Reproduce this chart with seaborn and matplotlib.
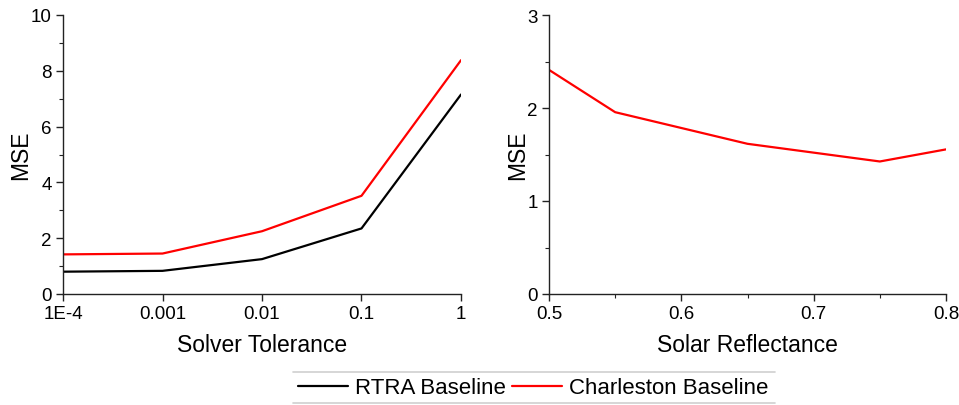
import matplotlib
matplotlib.use("Agg")
import matplotlib.pyplot as plt
import matplotlib.ticker as mticker
from matplotlib.lines import Line2D
import seaborn as sns
import pandas as pd

sns.set_theme(style="ticks")
plt.rcParams['font.family'] = ['Liberation Sans', 'DejaVu Sans']
plt.rcParams['text.color'] = 'black'
plt.rcParams['axes.labelcolor'] = 'black'

# Left panel data
tolerance = [1e-4, 1e-3, 1e-2, 1e-1, 1.0]
rtra_mse = [0.80, 0.83, 1.25, 2.35, 7.15]
charleston_mse = [1.42, 1.45, 2.25, 3.52, 8.38]
tol_ticks = [1e-4, 1e-3, 1e-2, 1e-1, 1.0]
tol_labels = ["1E-4", "0.001", "0.01", "0.1", "1"]

# Right panel data
reflectance = [0.50, 0.55, 0.60, 0.65, 0.70, 0.75, 0.80]
charleston_refl_mse = [2.41, 1.955, 1.785, 1.615, 1.52, 1.425, 1.555]

series_names = ["RTRA Baseline", "Charleston Baseline"]
colors = {"RTRA Baseline": "black", "Charleston Baseline": "#ff0000"}

df_left = pd.DataFrame({
    "tol": tolerance * 2,
    "mse": rtra_mse + charleston_mse,
    "series": [series_names[0]] * len(tolerance) + [series_names[1]] * len(tolerance),
})
df_right = pd.DataFrame({"refl": reflectance, "mse": charleston_refl_mse})

W, H = 959, 406
fig = plt.figure(figsize=(W / 100, H / 100), dpi=100)

def px_axes(x0, x1, ytop, ybot):
    return fig.add_axes([x0 / W, (H - ybot) / H, (x1 - x0) / W, (ybot - ytop) / H])

ax1 = px_axes(63, 461, 16, 295)
ax2 = px_axes(549, 946, 16, 295)

sns.lineplot(data=df_left, x="tol", y="mse", hue="series", palette=colors,
             hue_order=series_names, ax=ax1, linewidth=1.6, legend=False)
ax1.set_xscale("log")
ax1.set_xlim(1e-4, 1.0)
ax1.set_ylim(0, 10)
ax1.set_xticks(tol_ticks)
ax1.set_xticklabels(tol_labels)
ax1.xaxis.set_minor_locator(mticker.NullLocator())
ax1.set_yticks([0, 2, 4, 6, 8, 10])
ax1.yaxis.set_minor_locator(mticker.MultipleLocator(1))
ax1.set_xlabel("Solver Tolerance", fontsize=16.5, labelpad=8)
ax1.set_ylabel("MSE", fontsize=16.5, labelpad=-1)

sns.lineplot(data=df_right, x="refl", y="mse", color="#ff0000", ax=ax2,
             linewidth=1.6, legend=False)
ax2.set_xlim(0.5, 0.8)
ax2.set_ylim(0, 3)
ax2.set_xticks([0.5, 0.6, 0.7, 0.8])
ax2.xaxis.set_minor_locator(mticker.MultipleLocator(0.05))
ax2.set_yticks([0, 1, 2, 3])
ax2.yaxis.set_minor_locator(mticker.MultipleLocator(0.5))
ax2.set_xlabel("Solar Reflectance", fontsize=16.5, labelpad=8)
ax2.set_ylabel("MSE", fontsize=16.5, labelpad=-1)

for ax in (ax1, ax2):
    for s in ("top", "right"):
        ax.spines[s].set_visible(False)
    for s in ("left", "bottom"):
        ax.spines[s].set_linewidth(1.0)
        ax.spines[s].set_color("#222222")
    ax.tick_params(which="major", direction="out", length=5, width=1.0,
                   labelsize=13.5, colors="#222222", labelcolor="black", pad=3)
    ax.tick_params(which="minor", direction="out", length=3, width=0.8,
                   colors="#222222")
    ax.set_facecolor("white")

handles = [Line2D([], [], color=colors[n], linewidth=1.6) for n in series_names]
fig.legend(handles, series_names, loc="center", bbox_to_anchor=(533 / W, (H - 389) / H),
           ncol=2, frameon=False, fontsize=16, handlelength=2.25, handletextpad=0.3,
           columnspacing=0.3)
for yp in (373, 404):
    fig.add_artist(Line2D([293 / W, 775 / W], [(H - yp) / H] * 2,
                          color="#d0d0d0", linewidth=1.2, transform=fig.transFigure))

fig.savefig("out.png", dpi=100, facecolor="white")
